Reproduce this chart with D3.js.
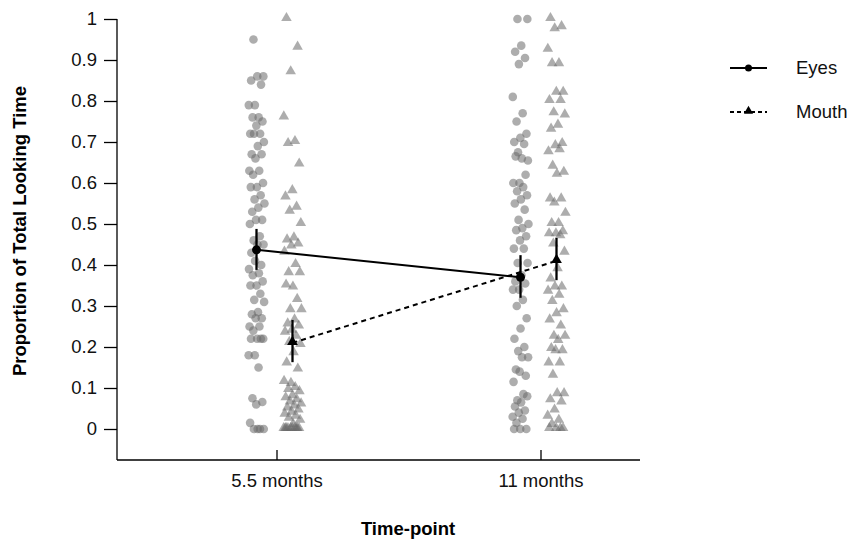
<!DOCTYPE html>
<html>
<head>
<meta charset="utf-8">
<script src="https://cdn.jsdelivr.net/npm/d3@7"></script>
<style>
  body { margin: 0; background: #fff; }
  text { font-family: "Liberation Sans", Arial, sans-serif; }
</style>
</head>
<body>
<script>
// time-points on the x axis
const timepoints = ["5.5 months", "11 months"];
const yTicks = [0, 0.1, 0.2, 0.3, 0.4, 0.5, 0.6, 0.7, 0.8, 0.9, 1];

// individual proportions
const eyes55 = [0.95,0.86,0.86,0.85,0.84,0.79,0.79,0.76,0.76,0.75,0.74,0.72,0.72,0.72,0.70,0.69,0.67,0.67,0.66,0.63,0.63,0.62,0.60,0.59,0.59,0.57,0.56,0.55,0.54,0.53,0.51,0.51,0.50,0.47,0.46,0.45,0.45,0.43,0.40,0.41,0.39,0.38,0.375,0.36,0.35,0.35,0.33,0.315,0.31,0.285,0.28,0.27,0.27,0.25,0.25,0.24,0.22,0.22,0.22,0.22,0.18,0.18,0.15,0.075,0.066,0.06,0.015,0,0,0,0];
const mouth55 = [1.0,0.93,0.87,0.76,0.70,0.695,0.645,0.58,0.565,0.54,0.53,0.50,0.465,0.46,0.45,0.445,0.43,0.40,0.38,0.38,0.345,0.35,0.315,0.29,0.29,0.265,0.255,0.25,0.24,0.235,0.225,0.21,0.205,0.185,0.16,0.145,0.11,0.115,0.10,0.095,0.09,0.08,0.075,0.07,0.065,0.06,0.055,0.05,0.045,0.04,0.035,0.03,0.025,0.02,0.01,0,0,0,0,0,0,0,0,0,0];
const eyes11 = [1.0,1.0,0.935,0.92,0.905,0.89,0.81,0.77,0.75,0.72,0.71,0.70,0.695,0.675,0.655,0.66,0.665,0.62,0.60,0.60,0.59,0.58,0.57,0.56,0.55,0.535,0.51,0.50,0.49,0.485,0.47,0.46,0.44,0.44,0.405,0.405,0.375,0.36,0.355,0.34,0.34,0.315,0.30,0.27,0.245,0.22,0.20,0.19,0.175,0.175,0.145,0.13,0.14,0.115,0.085,0.07,0.08,0.065,0.055,0.045,0.04,0.03,0.025,0.015,0,0,0];
const mouth11 = [1.0,0.98,0.975,0.925,0.89,0.89,0.82,0.82,0.80,0.80,0.77,0.765,0.74,0.73,0.695,0.69,0.675,0.68,0.64,0.625,0.62,0.56,0.56,0.55,0.525,0.50,0.50,0.48,0.475,0.475,0.47,0.45,0.43,0.39,0.365,0.345,0.345,0.335,0.325,0.31,0.29,0.28,0.265,0.25,0.225,0.225,0.215,0.195,0.19,0.19,0.16,0.16,0.13,0.085,0.085,0.07,0.065,0.045,0.03,0.02,0.01,0,0,0,0];

// group means and error bar limits
const eyesMean = [0.437, 0.37];
const eyesLo   = [0.388, 0.32];
const eyesHi   = [0.488, 0.424];
const mouthMean = [0.21, 0.41];
const mouthLo   = [0.163, 0.363];
const mouthHi   = [0.266, 0.466];

const width = 848, height = 545;

const svg = d3.select("body").append("svg")
  .attr("width", width)
  .attr("height", height);

const x = d3.scalePoint().domain(timepoints).range([276.5, 540.5]);
const y = d3.scaleLinear().domain([0, 1]).range([429, 19]);

const eyesOff = -20, mouthOff = 16;

// y axis
const yAxis = svg.append("g")
  .attr("transform", "translate(117,0)")
  .call(d3.axisLeft(y).tickValues(yTicks).tickFormat(d3.format("")).tickSize(13).tickPadding(7));
yAxis.select(".domain").remove();
yAxis.append("line")
  .attr("x1", 0).attr("x2", 0).attr("y1", y(1)).attr("y2", 460)
  .attr("stroke", "#000").attr("stroke-width", 1.3);
yAxis.selectAll(".tick line").attr("stroke-width", 1.3);
yAxis.selectAll("text").attr("font-size", 18.5).attr("fill", "#111");

// x axis
const xAxis = svg.append("g")
  .attr("transform", "translate(0,460)")
  .call(d3.axisBottom(x).tickSizeInner(-10).tickSizeOuter(0).tickPadding(14));
xAxis.select(".domain").remove();
xAxis.append("line")
  .attr("x1", 117).attr("x2", 640).attr("y1", 0).attr("y2", 0)
  .attr("stroke", "#000").attr("stroke-width", 1.3);
xAxis.selectAll(".tick line").attr("stroke-width", 1.3);
xAxis.selectAll("text").attr("font-size", 18.5).attr("fill", "#111");

// axis titles
svg.append("text")
  .attr("transform", "translate(26,231) rotate(-90)")
  .attr("text-anchor", "middle")
  .attr("font-size", 18.5).attr("font-weight", "bold")
  .text("Proportion of Total Looking Time");
svg.append("text")
  .attr("x", 408).attr("y", 535)
  .attr("text-anchor", "middle")
  .attr("font-size", 18.5).attr("font-weight", "bold")
  .text("Time-point");

// deterministic horizontal spread of the raw points
const jitter = (i, w) => (((i * 0.618034 + 0.31) % 1) - 0.5) * w;

const tri = d3.symbol().type(d3.symbolTriangle);

const groups = [
  { tp: timepoints[0], vals: eyes55, shape: "circle", off: eyesOff },
  { tp: timepoints[0], vals: mouth55, shape: "tri", off: mouthOff },
  { tp: timepoints[1], vals: eyes11, shape: "circle", off: eyesOff },
  { tp: timepoints[1], vals: mouth11, shape: "tri", off: mouthOff }
];

const pts = svg.append("g");
groups.forEach(g => {
  if (g.shape === "circle") {
    pts.selectAll(null).data(g.vals).enter().append("circle")
      .attr("cx", (d, i) => x(g.tp) + g.off + jitter(i, 16))
      .attr("cy", d => y(d))
      .attr("r", 4.3)
      .attr("fill", "#6a6a6a")
      .attr("fill-opacity", 0.55);
  } else {
    pts.selectAll(null).data(g.vals).enter().append("path")
      .attr("d", tri.size(48)())
      .attr("transform", (d, i) => "translate(" + (x(g.tp) + g.off + jitter(i + 3, 18)) + "," + (y(d) - 1) + ")")
      .attr("fill", "#6a6a6a")
      .attr("fill-opacity", 0.55);
  }
});

// means, lines and error bars
const series = [
  { mean: eyesMean, lo: eyesLo, hi: eyesHi, off: eyesOff, dash: null, shape: "circle" },
  { mean: mouthMean, lo: mouthLo, hi: mouthHi, off: mouthOff, dash: "5,4", shape: "tri" }
];

series.forEach(s => {
  const line = d3.line()
    .x((d, i) => x(timepoints[i]) + s.off)
    .y(d => y(d));
  svg.append("path")
    .datum(s.mean)
    .attr("d", line)
    .attr("fill", "none")
    .attr("stroke", "#000")
    .attr("stroke-width", 2)
    .attr("stroke-dasharray", s.dash);

  svg.selectAll(null).data(s.mean).enter().append("line")
    .attr("x1", (d, i) => x(timepoints[i]) + s.off)
    .attr("x2", (d, i) => x(timepoints[i]) + s.off)
    .attr("y1", (d, i) => y(s.lo[i]))
    .attr("y2", (d, i) => y(s.hi[i]))
    .attr("stroke", "#000")
    .attr("stroke-width", 2.3);

  if (s.shape === "circle") {
    svg.selectAll(null).data(s.mean).enter().append("circle")
      .attr("cx", (d, i) => x(timepoints[i]) + s.off)
      .attr("cy", d => y(d))
      .attr("r", 4.5)
      .attr("fill", "#000");
  } else {
    svg.selectAll(null).data(s.mean).enter().append("path")
      .attr("d", tri.size(50)())
      .attr("transform", (d, i) => "translate(" + (x(timepoints[i]) + s.off) + "," + (y(d) - 1) + ")")
      .attr("fill", "#000");
  }
});

// legend
const legendItems = [
  { label: "Eyes", dash: null, shape: "circle", y: 68 },
  { label: "Mouth", dash: "4,3", shape: "tri", y: 112 }
];
const legend = svg.append("g");
legendItems.forEach(it => {
  legend.append("line")
    .attr("x1", 730).attr("x2", 767).attr("y1", it.y).attr("y2", it.y)
    .attr("stroke", "#000").attr("stroke-width", 1.8)
    .attr("stroke-dasharray", it.dash);
  if (it.shape === "circle") {
    legend.append("circle").attr("cx", 748.5).attr("cy", it.y).attr("r", 3.5).attr("fill", "#000");
  } else {
    legend.append("path").attr("d", tri.size(36)())
      .attr("transform", "translate(748.5," + (it.y - 1) + ")").attr("fill", "#000");
  }
  legend.append("text")
    .attr("x", 796).attr("y", it.y + 6)
    .attr("font-size", 18.5).attr("fill", "#111")
    .text(it.label);
});
</script>
</body>
</html>
